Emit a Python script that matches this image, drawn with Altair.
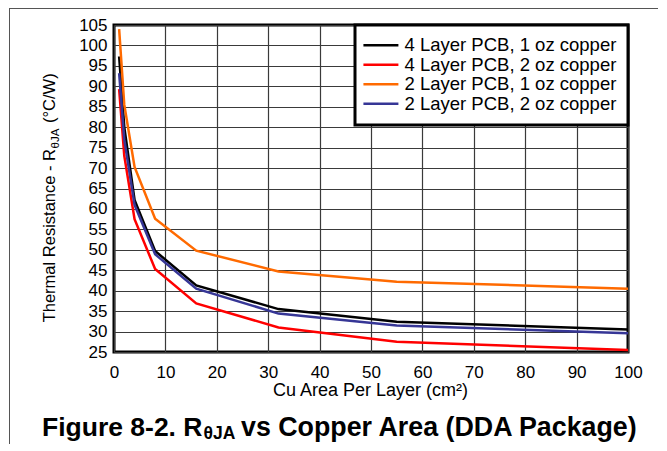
import altair as alt
import pandas as pd

# ---- data ----
area = [1, 2, 4, 8, 16, 32, 55, 100]
series_names = [
    "4 Layer PCB, 1 oz copper",
    "4 Layer PCB, 2 oz copper",
    "2 Layer PCB, 1 oz copper",
    "2 Layer PCB, 2 oz copper",
]
series_colors = ["#000000", "#ff0000", "#ff6a00", "#363696"]
r_4l_1oz = [97.3, 80.0, 62.2, 49.7, 41.3, 35.5, 32.4, 30.5]
r_4l_2oz = [89.3, 73.0, 57.5, 45.3, 36.9, 31.0, 27.5, 25.5]
r_2l_1oz = [104.0, 85.5, 70.3, 57.6, 49.8, 44.7, 42.2, 40.5]
r_2l_2oz = [93.2, 77.0, 61.0, 48.9, 40.5, 34.4, 31.5, 29.6]
x_ticks = list(range(0, 101, 10))
y_ticks = list(range(25, 106, 5))

x_title = "Cu Area Per Layer (cm²)"
y_title_parts = ["Thermal Resistance - R", "θJA", " (°C/W)"]
title_parts = ["Figure 8-2. R", "θJA", " vs Copper Area (DDA Package)"]

FONT = "Liberation Sans, Arial, Helvetica, sans-serif"

rows = []
for name, vals in zip(series_names, [r_4l_1oz, r_4l_2oz, r_2l_1oz, r_2l_2oz]):
    for a, v in zip(area, vals):
        rows.append({"series": name, "area": a, "r": v})
df = pd.DataFrame(rows)

W, H = 514, 327

lines = alt.Chart(df).mark_line(strokeWidth=2.5).encode(
    x=alt.X(
        "area:Q",
        scale=alt.Scale(domain=[0, 100], nice=False),
        axis=alt.Axis(
            values=x_ticks, title=None, labelPadding=12,
            labelFlush=False, labelOverlap=False,
        ),
    ),
    y=alt.Y(
        "r:Q",
        scale=alt.Scale(domain=[25, 105], nice=False, zero=False),
        axis=alt.Axis(values=y_ticks, title=None, labelPadding=7,
                      labelFlush=False, labelOverlap=False),
    ),
    color=alt.Color(
        "series:N",
        scale=alt.Scale(domain=series_names, range=series_colors),
        sort=series_names,
        legend=alt.Legend(
            title=None, orient="top-right", offset=0, padding=11,
            fillColor="white",
            labelFont=FONT, labelFontSize=18.5, labelColor="black", labelLimit=0,
            symbolType="M-1,0H5", symbolSize=136, symbolStrokeWidth=2.5,
            symbolOffset=-6, labelOffset=26, rowPadding=0.5,
        ),
    ),
)

one = pd.DataFrame({"k": [0]})

frame_top = alt.Chart(one).mark_rule(color="#555555", strokeWidth=1).encode(
    x=alt.value(-105), x2=alt.value(W + 30), y=alt.value(-16.5)
)
frame_left = alt.Chart(one).mark_rule(color="#555555", strokeWidth=1).encode(
    x=alt.value(-104.5), x2=alt.value(-104.5), y=alt.value(-16.5), y2=alt.value(H + 92)
)

def txt(s, x, y, size, weight="normal", align="left", angle=0):
    return alt.Chart(pd.DataFrame({"t": [s]})).mark_text(
        font=FONT, fontSize=size, fontWeight=weight, align=align,
        baseline="alphabetic", angle=angle, color="black",
    ).encode(text="t:N", x=alt.value(x), y=alt.value(y))

# x-axis title
xt = txt(x_title, W / 2 - 0.5, 371, 18, align="center")

# y-axis title (rotated, with subscript)
yb = -59
y1 = 124
yt1 = txt(y_title_parts[0], yb, y1, 16.5, align="right", angle=270)
yt2 = txt(y_title_parts[1], yb + 4, y1 - 0.5, 11.5, align="left", angle=270)
yt3 = txt(y_title_parts[2], yb, y1 - 26, 16.5, align="left", angle=270)

# figure caption (bold, with subscript)
tb = 410.5
x1 = 88.5
tt1 = txt(title_parts[0], x1, tb, 26.5, weight="bold", align="right")
tt2 = txt(title_parts[1], x1 + 1, tb + 3.5, 17.5, weight="bold", align="left")
tt3 = txt(title_parts[2], x1 + 38.5, tb, 26.8, weight="bold", align="left")

chart = alt.layer(
    lines, frame_top, frame_left, xt, yt1, yt2, yt3, tt1, tt2, tt3
).properties(
    width=W, height=H,
    autosize=alt.AutoSizeParams(type="none"),
    padding={"left": 106, "top": 17, "right": 30, "bottom": 92},
).configure_view(
    stroke="black", strokeWidth=3
).configure_legend(
    strokeColor="black", strokeWidth=3
).configure_axis(
    grid=True, gridColor="#3a3a3a", gridWidth=1.2, domain=False, ticks=False,
    labelFont=FONT, labelFontSize=17, labelColor="black",
)

chart.save("out.html", embed_options={"renderer": "svg", "actions": False})
